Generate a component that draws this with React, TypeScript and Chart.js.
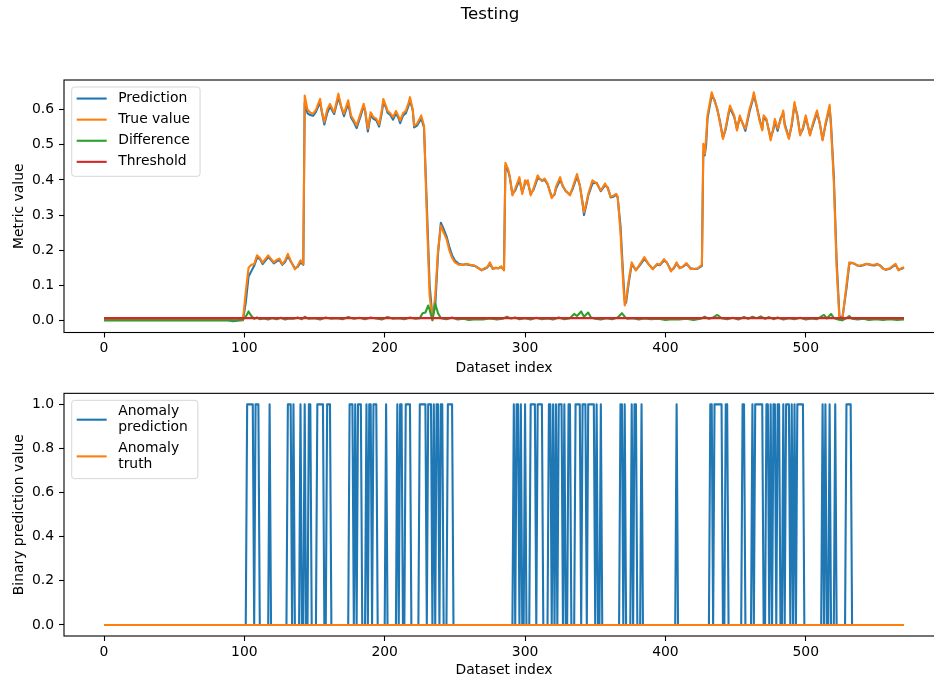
import React, { useEffect, useRef } from 'react';
import { Chart, registerables } from 'chart.js';

Chart.register(...registerables);

const FONT = "'DejaVu Sans', 'Liberation Sans', sans-serif";
const FIGURE_TITLE = 'Testing';
const X_LABEL = 'Dataset index';
const TOP_Y_LABEL = 'Metric value';
const BOTTOM_Y_LABEL = 'Binary prediction value';

const X_TICKS = [0, 100, 200, 300, 400, 500];
const TOP_Y_TICKS = [0, 0.1, 0.2, 0.3, 0.4, 0.5, 0.6];
const BOTTOM_Y_TICKS = [0, 0.2, 0.4, 0.6, 0.8, 1.0];
const LAST_INDEX = 570;

// [index, value]
const TRUE_VALUE: number[][] = [
  [0, 0.0], [98, 0.0], [99, 0.002], [101, 0.08], [103, 0.15], [105, 0.158], [107, 0.16], [109, 0.185],
  [111, 0.178], [113, 0.164], [115, 0.175], [117, 0.185], [119, 0.175], [121, 0.165], [123, 0.172],
  [125, 0.176], [127, 0.16], [129, 0.17], [131, 0.189], [133, 0.17], [136, 0.145], [138, 0.155],
  [140, 0.171], [142, 0.16], [143, 0.641], [145, 0.6], [147, 0.592], [149, 0.589], [151, 0.6],
  [154, 0.631], [155, 0.6], [157, 0.565], [159, 0.6], [161, 0.617], [163, 0.6], [164, 0.593],
  [167, 0.646], [169, 0.61], [171, 0.589], [174, 0.627], [176, 0.584], [178, 0.57], [180, 0.555],
  [182, 0.58], [185, 0.617], [186, 0.6], [188, 0.546], [190, 0.593], [192, 0.579], [194, 0.575],
  [196, 0.558], [198, 0.6], [199, 0.631], [201, 0.61], [202, 0.597], [204, 0.59], [206, 0.579],
  [208, 0.597], [210, 0.58], [211, 0.569], [213, 0.59], [215, 0.597], [217, 0.62], [218, 0.636],
  [220, 0.6], [221, 0.555], [223, 0.56], [225, 0.575], [226, 0.584], [228, 0.555], [230, 0.3],
  [232, 0.07], [234, 0.0], [236, 0.07], [238, 0.2], [240, 0.27], [242, 0.25], [244, 0.232],
  [246, 0.2], [248, 0.178], [250, 0.165], [253, 0.158], [256, 0.158], [258, 0.161], [261, 0.158],
  [264, 0.156], [266, 0.15], [269, 0.142], [271, 0.148], [273, 0.151], [275, 0.165], [277, 0.146],
  [279, 0.15], [281, 0.148], [283, 0.154], [285, 0.142], [286, 0.449], [288, 0.43], [289, 0.413],
  [291, 0.356], [293, 0.375], [296, 0.408], [298, 0.36], [300, 0.399], [301, 0.39], [302, 0.399],
  [304, 0.356], [306, 0.375], [309, 0.413], [311, 0.4], [312, 0.399], [314, 0.404], [316, 0.39],
  [319, 0.348], [321, 0.36], [322, 0.38], [325, 0.408], [327, 0.38], [329, 0.37], [332, 0.356],
  [334, 0.38], [337, 0.417], [339, 0.385], [341, 0.33], [342, 0.308], [344, 0.34], [345, 0.36],
  [348, 0.399], [351, 0.39], [354, 0.37], [357, 0.39], [359, 0.375], [361, 0.352], [363, 0.355],
  [365, 0.36], [366, 0.352], [368, 0.25], [370, 0.1], [371, 0.042], [372, 0.06], [374, 0.118],
  [376, 0.165], [379, 0.142], [382, 0.161], [385, 0.18], [388, 0.16], [391, 0.145], [394, 0.161],
  [396, 0.158], [399, 0.174], [401, 0.165], [404, 0.139], [406, 0.15], [408, 0.165], [410, 0.148],
  [412, 0.152], [415, 0.163], [418, 0.146], [421, 0.147], [423, 0.148], [426, 0.158], [427, 0.503],
  [428, 0.474], [429, 0.52], [430, 0.584], [433, 0.65], [435, 0.625], [437, 0.603], [439, 0.56],
  [441, 0.517], [443, 0.55], [445, 0.593], [446, 0.612], [449, 0.584], [451, 0.541], [453, 0.584],
  [455, 0.56], [457, 0.546], [460, 0.603], [462, 0.63], [463, 0.65], [465, 0.612], [467, 0.57],
  [469, 0.541], [470, 0.584], [472, 0.574], [475, 0.513], [477, 0.55], [478, 0.574], [480, 0.546],
  [482, 0.57], [484, 0.598], [485, 0.555], [488, 0.517], [490, 0.56], [492, 0.622], [494, 0.58],
  [496, 0.527], [498, 0.55], [500, 0.584], [503, 0.527], [505, 0.56], [508, 0.598], [510, 0.56],
  [512, 0.513], [514, 0.56], [517, 0.614], [518, 0.55], [520, 0.394], [522, 0.15], [524, 0.002],
  [526, 0.0], [529, 0.1], [531, 0.165], [533, 0.163], [535, 0.161], [537, 0.155], [539, 0.156],
  [541, 0.158], [543, 0.161], [545, 0.16], [547, 0.158], [549, 0.158], [551, 0.161], [553, 0.155],
  [555, 0.147], [557, 0.145], [560, 0.148], [562, 0.155], [564, 0.161], [566, 0.142], [568, 0.148],
  [570, 0.151],
];

const PREDICTION: number[][] = [
  [0, 0.0], [88, 0.0], [92, -0.003], [96, -0.001], [99, 0.0], [101, 0.05], [103, 0.125], [105, 0.14], [107, 0.155],
  [109, 0.178], [111, 0.175], [113, 0.16], [115, 0.17], [117, 0.18], [119, 0.172], [121, 0.162],
  [123, 0.168], [125, 0.172], [127, 0.158], [129, 0.166], [131, 0.183], [133, 0.168], [136, 0.148],
  [138, 0.152], [140, 0.165], [142, 0.158], [143, 0.62], [145, 0.59], [147, 0.585], [149, 0.583],
  [151, 0.594], [154, 0.622], [155, 0.598], [157, 0.558], [159, 0.59], [161, 0.61], [163, 0.595],
  [164, 0.588], [167, 0.635], [169, 0.608], [171, 0.582], [174, 0.618], [176, 0.578], [178, 0.565],
  [180, 0.548], [182, 0.572], [185, 0.61], [186, 0.598], [188, 0.538], [190, 0.585], [192, 0.574],
  [194, 0.57], [196, 0.552], [198, 0.592], [199, 0.622], [201, 0.606], [202, 0.592], [204, 0.585],
  [206, 0.572], [208, 0.59], [210, 0.575], [211, 0.562], [213, 0.583], [215, 0.59], [217, 0.612],
  [218, 0.628], [220, 0.598], [221, 0.55], [223, 0.555], [225, 0.568], [226, 0.576], [228, 0.55],
  [230, 0.33], [232, 0.1], [234, 0.01], [236, 0.04], [238, 0.19], [240, 0.278], [242, 0.26],
  [244, 0.24], [246, 0.21], [248, 0.185], [250, 0.17], [253, 0.16], [256, 0.158], [258, 0.16],
  [261, 0.157], [264, 0.155], [266, 0.151], [269, 0.143], [271, 0.146], [273, 0.15], [275, 0.16],
  [277, 0.147], [279, 0.149], [281, 0.148], [283, 0.152], [285, 0.144], [286, 0.44], [288, 0.425],
  [289, 0.41], [291, 0.36], [293, 0.37], [296, 0.4], [298, 0.365], [300, 0.39], [301, 0.395],
  [302, 0.392], [304, 0.36], [306, 0.372], [309, 0.405], [311, 0.402], [312, 0.398], [314, 0.4],
  [316, 0.388], [319, 0.352], [321, 0.358], [322, 0.375], [325, 0.4], [327, 0.382], [329, 0.368],
  [332, 0.358], [334, 0.375], [337, 0.41], [339, 0.385], [341, 0.335], [342, 0.3], [344, 0.335],
  [345, 0.355], [348, 0.39], [351, 0.392], [354, 0.368], [357, 0.385], [359, 0.378], [361, 0.35],
  [363, 0.352], [365, 0.358], [366, 0.35], [368, 0.27], [370, 0.12], [371, 0.055], [372, 0.05],
  [374, 0.11], [376, 0.16], [379, 0.143], [382, 0.158], [385, 0.175], [388, 0.16], [391, 0.147],
  [394, 0.158], [396, 0.157], [399, 0.17], [401, 0.165], [404, 0.142], [406, 0.148], [408, 0.162],
  [410, 0.15], [412, 0.151], [415, 0.16], [418, 0.148], [421, 0.146], [423, 0.147], [426, 0.155],
  [427, 0.48], [428, 0.47], [429, 0.5], [430, 0.575], [433, 0.642], [435, 0.628], [437, 0.6],
  [439, 0.565], [441, 0.52], [443, 0.545], [445, 0.588], [446, 0.605], [449, 0.58], [451, 0.545],
  [453, 0.578], [455, 0.562], [457, 0.54], [460, 0.596], [462, 0.625], [463, 0.642], [465, 0.61],
  [467, 0.575], [469, 0.545], [470, 0.578], [472, 0.57], [475, 0.52], [477, 0.545], [478, 0.568],
  [480, 0.54], [482, 0.575], [484, 0.59], [485, 0.56], [488, 0.52], [490, 0.555], [492, 0.615],
  [494, 0.585], [496, 0.53], [498, 0.545], [500, 0.578], [503, 0.53], [505, 0.555], [508, 0.592],
  [510, 0.562], [512, 0.515], [514, 0.555], [517, 0.606], [518, 0.56], [520, 0.41], [522, 0.17],
  [524, 0.012], [526, 0.004], [529, 0.09], [531, 0.16], [533, 0.164], [535, 0.16], [537, 0.156],
  [539, 0.155], [541, 0.157], [543, 0.16], [545, 0.159], [547, 0.157], [549, 0.156], [551, 0.16],
  [553, 0.156], [555, 0.148], [557, 0.144], [560, 0.147], [562, 0.153], [564, 0.158], [566, 0.144],
  [568, 0.146], [570, 0.15],
];

const DIFFERENCE: number[][] = [
  [0, 0.0], [95, 0.0], [99, 0.002], [101, 0.01], [103, 0.025], [105, 0.012], [107, 0.004], [109, 0.008],
  [111, 0.003], [114, 0.005], [117, 0.002], [120, 0.006], [123, 0.003], [126, 0.007], [129, 0.002],
  [132, 0.005], [135, 0.004], [138, 0.008], [141, 0.003], [143, 0.01], [146, 0.004], [150, 0.006],
  [154, 0.002], [158, 0.008], [162, 0.004], [166, 0.006], [170, 0.003], [174, 0.009], [178, 0.004],
  [182, 0.007], [186, 0.003], [190, 0.008], [194, 0.005], [198, 0.002], [202, 0.009], [206, 0.004],
  [210, 0.006], [214, 0.003], [218, 0.008], [222, 0.004], [225, 0.006], [227, 0.02], [229, 0.022],
  [231, 0.042], [232, 0.03], [234, 0.0], [236, 0.047], [238, 0.02], [240, 0.006], [244, 0.003],
  [248, 0.008], [252, 0.002], [256, 0.004], [260, 0.001], [265, 0.003], [270, 0.002], [275, 0.005],
  [280, 0.002], [284, 0.004], [287, 0.01], [290, 0.005], [293, 0.008], [296, 0.003], [300, 0.006],
  [304, 0.002], [308, 0.007], [312, 0.003], [316, 0.005], [320, 0.002], [324, 0.008], [328, 0.003],
  [332, 0.006], [335, 0.018], [337, 0.012], [340, 0.025], [342, 0.01], [345, 0.022], [347, 0.008],
  [350, 0.004], [354, 0.002], [358, 0.006], [362, 0.003], [366, 0.008], [369, 0.02], [371, 0.01],
  [373, 0.004], [377, 0.006], [381, 0.002], [385, 0.005], [390, 0.003], [395, 0.004], [400, 0.001],
  [405, 0.003], [410, 0.002], [415, 0.004], [420, 0.001], [425, 0.004], [428, 0.01], [431, 0.004],
  [434, 0.008], [437, 0.015], [440, 0.006], [444, 0.003], [448, 0.007], [452, 0.002], [456, 0.009],
  [459, 0.004], [462, 0.01], [465, 0.006], [468, 0.011], [471, 0.004], [474, 0.009], [477, 0.003],
  [480, 0.008], [484, 0.002], [488, 0.006], [492, 0.003], [496, 0.007], [500, 0.002], [504, 0.005],
  [508, 0.003], [513, 0.015], [515, 0.005], [518, 0.018], [520, 0.006], [523, 0.002], [526, 0.0],
  [529, 0.006], [531, 0.012], [533, 0.004], [537, 0.002], [541, 0.004], [545, 0.001], [550, 0.003],
  [555, 0.001], [560, 0.003], [565, 0.001], [570, 0.002],
];

const THRESHOLD = 0.006;

// [first index, last index] of runs where the anomaly prediction is 1
const ANOMALY_PREDICTION_RUNS: number[][] = [
  [102, 106], [108, 110], [118, 118], [131, 133], [135, 135], [140, 140], [143, 143], [146, 147],
  [152, 156], [159, 161], [175, 177], [179, 179], [181, 183], [187, 187], [189, 190], [192, 194],
  [201, 201], [209, 209], [211, 212], [215, 218], [225, 229], [231, 233], [235, 235], [237, 238],
  [240, 241], [245, 248], [292, 292], [294, 295], [297, 297], [300, 300], [304, 307], [309, 312],
  [317, 318], [320, 320], [322, 322], [324, 326], [328, 328], [331, 332], [336, 339], [341, 343],
  [345, 349], [351, 351], [354, 354], [368, 369], [371, 371], [376, 376], [378, 379], [383, 383],
  [408, 408], [432, 433], [435, 440], [443, 444], [455, 456], [462, 462], [464, 469], [472, 473],
  [475, 475], [477, 478], [480, 481], [484, 484], [486, 488], [490, 490], [492, 492], [494, 498],
  [512, 512], [514, 514], [517, 517], [521, 521], [529, 532],
];
const ANOMALY_TRUTH_RUNS: number[][] = [];

const COLORS = ['#1f77b4', '#ff7f0e', '#2ca02c', '#d62728'];

const toPoints = (pairs: number[][]) => pairs.map(([x, y]) => ({ x, y }));
const fromRuns = (runs: number[][]) => {
  const out: { x: number; y: number }[] = [];
  for (let i = 0; i <= LAST_INDEX; i++) {
    const on = runs.some(([a, b]) => i >= a && i <= b);
    out.push({ x: i, y: on ? 1 : 0 });
  }
  return out;
};

const FS = 13.9;

const framePlugin = {
  id: 'mplFrame',
  afterDatasetsDraw(chart: any) {
    const { ctx, chartArea: a } = chart;
    ctx.save();
    ctx.strokeStyle = '#000';
    ctx.lineWidth = 1.1;
    ctx.strokeRect(a.left, a.top, a.right - a.left, a.bottom - a.top);
    ctx.restore();
  },
};

const legendPlugin = {
  id: 'mplLegend',
  afterDraw(chart: any, _args: any, opts: any) {
    if (!opts || !opts.display) return;
    const { ctx, chartArea: a } = chart;
    const lineGap = 15.6;
    const entryGap = 7.2;
    const padTop = 4.6;
    const padBottom = 7.5;
    const items = chart.data.datasets.map((d: any) => ({
      lines: String(d.label).split('\n'),
      color: d.borderColor,
    }));
    ctx.save();
    ctx.font = `${FS}px ${FONT}`;
    let maxW = 0;
    items.forEach((it: any) => it.lines.forEach((l: string) => { maxW = Math.max(maxW, ctx.measureText(l).width); }));
    const heights = items.map((it: any) => FS + (it.lines.length - 1) * lineGap);
    const boxH = padTop + heights.reduce((s: number, h: number) => s + h, 0) + entryGap * (items.length - 1) + padBottom;
    const boxW = 46.5 + maxW + 10;
    const bx = a.left + 7.7;
    const by = a.top + 7;
    const r = 2.8;
    ctx.beginPath();
    ctx.moveTo(bx + r, by);
    ctx.lineTo(bx + boxW - r, by);
    ctx.arcTo(bx + boxW, by, bx + boxW, by + r, r);
    ctx.lineTo(bx + boxW, by + boxH - r);
    ctx.arcTo(bx + boxW, by + boxH, bx + boxW - r, by + boxH, r);
    ctx.lineTo(bx + r, by + boxH);
    ctx.arcTo(bx, by + boxH, bx, by + boxH - r, r);
    ctx.lineTo(bx, by + r);
    ctx.arcTo(bx, by, bx + r, by, r);
    ctx.closePath();
    ctx.fillStyle = 'rgba(255,255,255,0.8)';
    ctx.fill();
    ctx.strokeStyle = 'rgba(204,204,204,0.8)';
    ctx.lineWidth = 1;
    ctx.stroke();
    let y = by + padTop;
    items.forEach((it: any, i: number) => {
      const h = heights[i];
      const cy = y + h / 2;
      ctx.strokeStyle = it.color;
      ctx.lineWidth = 2.1;
      ctx.beginPath();
      ctx.moveTo(bx + 5, cy);
      ctx.lineTo(bx + 35, cy);
      ctx.stroke();
      ctx.fillStyle = '#000';
      ctx.textAlign = 'left';
      ctx.textBaseline = 'middle';
      it.lines.forEach((l: string, k: number) => {
        ctx.fillText(l, bx + 46.5, y + FS / 2 + k * lineGap);
      });
      y += h + entryGap;
    });
    ctx.restore();
  },
};

const titlePlugin = {
  id: 'mplTitle',
  afterDraw(chart: any, _args: any, opts: any) {
    if (!opts || !opts.text) return;
    const { ctx } = chart;
    ctx.save();
    ctx.font = `16.7px ${FONT}`;
    ctx.fillStyle = '#000';
    ctx.textAlign = 'center';
    ctx.textBaseline = 'middle';
    ctx.fillText(opts.text, opts.x, opts.y);
    ctx.restore();
  },
};

function makeOptions(cfg: {
  yMin: number; yMax: number; yTicks: number[]; yLabel: string;
  padTop: number; padBottom: number; xAxisHeight: number; title?: string;
}) {
  const tickFont = { family: FONT, size: FS };
  return {
    responsive: false,
    animation: false,
    devicePixelRatio: 1,
    layout: { padding: { left: 0, right: 36, top: cfg.padTop, bottom: cfg.padBottom } },
    elements: { point: { radius: 0 }, line: { tension: 0, borderWidth: 2.1, borderJoinStyle: 'round' } },
    plugins: {
      legend: { display: false },
      tooltip: { enabled: false },
      mplLegend: { display: true },
      mplTitle: cfg.title ? { text: cfg.title, x: 490, y: 15 } : {},
    },
    scales: {
      x: {
        type: 'linear',
        min: -28.5,
        max: 598.5,
        afterBuildTicks: (s: any) => { s.ticks = X_TICKS.map((v) => ({ value: v })); },
        afterFit: (s: any) => { s.height = cfg.xAxisHeight; },
        ticks: { color: '#000', font: tickFont, padding: 3, maxRotation: 0, autoSkip: false, callback: (v: any) => String(v) },
        grid: { display: true, drawOnChartArea: false, drawTicks: true, tickLength: 5, tickColor: '#000', tickWidth: 1.1 },
        border: { display: false },
        title: { display: true, text: X_LABEL, color: '#000', font: tickFont, padding: { top: 0, bottom: 0 } },
      },
      y: {
        type: 'linear',
        min: cfg.yMin,
        max: cfg.yMax,
        afterBuildTicks: (s: any) => { s.ticks = cfg.yTicks.map((v) => ({ value: v })); },
        afterFit: (s: any) => { s.width = 64; },
        ticks: { color: '#000', font: tickFont, padding: 5, autoSkip: false, callback: (v: any) => Number(v).toFixed(1) },
        grid: { display: true, drawOnChartArea: false, drawTicks: true, tickLength: 5, tickColor: '#000', tickWidth: 1.1 },
        border: { display: false },
        title: { display: true, text: cfg.yLabel, color: '#000', font: tickFont, padding: { top: 11, bottom: 0 } },
      },
    },
  } as any;
}

export default function App() {
  const topRef = useRef<HTMLCanvasElement>(null);
  const bottomRef = useRef<HTMLCanvasElement>(null);

  useEffect(() => {
    const lineDs = (label: string, data: any[], color: string, order: number) => ({
      label, data, borderColor: color, backgroundColor: color, fill: false, order,
      pointRadius: 0, borderWidth: 2.1, tension: 0,
    });

    const top = new Chart(topRef.current!, {
      type: 'line',
      data: {
        datasets: [
          lineDs('Prediction', toPoints(PREDICTION), COLORS[0], 4),
          lineDs('True value', toPoints(TRUE_VALUE), COLORS[1], 3),
          lineDs('Difference', toPoints(DIFFERENCE), COLORS[2], 2),
          lineDs('Threshold', toPoints([[0, THRESHOLD], [LAST_INDEX, THRESHOLD]]), COLORS[3], 1),
        ],
      },
      options: makeOptions({
        yMin: -0.035, yMax: 0.685, yTicks: TOP_Y_TICKS, yLabel: TOP_Y_LABEL,
        padTop: 80, padBottom: 3.66, xAxisHeight: 43.84, title: FIGURE_TITLE,
      }),
      plugins: [framePlugin, legendPlugin, titlePlugin],
    });

    const bottom = new Chart(bottomRef.current!, {
      type: 'line',
      data: {
        datasets: [
          lineDs('Anomaly\nprediction', fromRuns(ANOMALY_PREDICTION_RUNS), COLORS[0], 2),
          lineDs('Anomaly\ntruth', fromRuns(ANOMALY_TRUTH_RUNS), COLORS[1], 1),
        ],
      },
      options: makeOptions({
        yMin: -0.05, yMax: 1.05, yTicks: BOTTOM_Y_TICKS, yLabel: BOTTOM_Y_LABEL,
        padTop: 3, padBottom: 2.66, xAxisHeight: 42.34,
      }),
      plugins: [framePlugin, legendPlugin],
    });

    return () => {
      top.destroy();
      bottom.destroy();
    };
  }, []);

  return (
    <div style={{ position: 'fixed', left: 0, top: 0, width: 934, height: 681, overflow: 'hidden', background: '#fff' }}>
      <canvas ref={topRef} width={980} height={380} style={{ position: 'absolute', left: 0, top: 0, width: 980, height: 380 }} />
      <canvas ref={bottomRef} width={980} height={301} style={{ position: 'absolute', left: 0, top: 380, width: 980, height: 301 }} />
    </div>
  );
}
